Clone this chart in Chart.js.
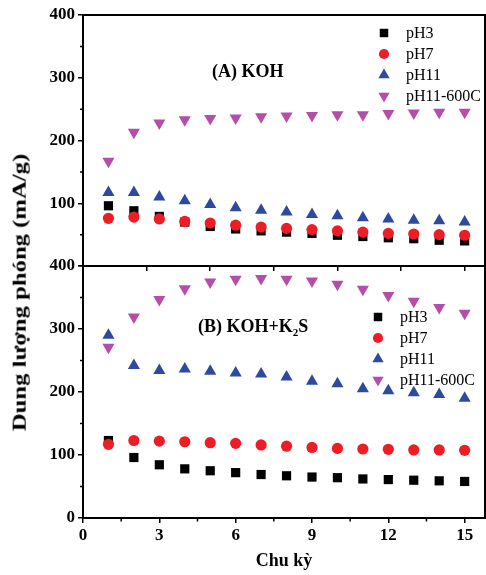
<!DOCTYPE html>
<html><head><meta charset="utf-8">
<script src="https://cdn.jsdelivr.net/npm/chart.js@4/dist/chart.umd.min.js"></script>
<style>
html,body{margin:0;padding:0;background:#fff;}
#wrap{position:relative;width:486px;height:575px;overflow:hidden;background:#fff;}
canvas{position:absolute;left:0;top:0;}
#ytitle{position:absolute;left:20px;top:292px;white-space:nowrap;font:bold 18px "Liberation Serif",serif;color:#000;transform-origin:center center;}
</style></head>
<body>
<div id="wrap">
<canvas id="cA" width="486" height="575"></canvas>
<canvas id="cB" width="486" height="575"></canvas>
<div id="ytitle">Dung lượng phóng (mA/g)</div>
</div>
<script>
// ---- data ----
const cycles = [1,2,3,4,5,6,7,8,9,10,11,12,13,14,15];
const seriesNames = ['pH3','pH7','pH11','pH11-600C'];
// Panel A: KOH
const kohPH3   = [96,88,79,70,63,59,56,54,52,49,47,45,43.5,41,40];
const kohPH7   = [76,78,75,71,68.5,65,62,60,58,56,54,52,51,50,49];
const kohPH11  = [117,117,110,104,98,93,89,86,82,80,77,75,73,72,70];
const kohPH600 = [167,213,228,233,235,236,238,239,240,241,241,243,244,245,245];
// Panel B: KOH+K2S
const ksPH3   = [123,96,84.5,78,75,72,69,67,65,64,62,61,60,59,58];
const ksPH7   = [117,123,122,121,119.5,118.5,116,114,112,110.5,109.5,109,108,108,107.5];
const ksPH11  = [290,242,234,236.5,233,230,228.5,224,217,213,205,202,199,196,190];
const ksPH600 = [271,319,347,364,374.5,379,380,379,376,371,363,353,344,334,325];
const yTicksMajor = [0,100,200,300,400];
const xTicksBottom = [0,3,6,9,12,15];

const colors = ['#000000','#ee1c25','#2d4a9e','#b54ea9'];
const styles = [
  {pointStyle:'rect', rotation:0, radius:6.5},
  {pointStyle:'circle', rotation:0, radius:5.6},
  {pointStyle:'triangle', rotation:0, radius:7},
  {pointStyle:'triangle', rotation:180, radius:7}
];
const drawOrder = [4,3,2,1];

const serif = '"Liberation Serif", "DejaVu Serif", serif';

function makeDatasets(arrs){
  return arrs.map((arr,i)=>({
    label: seriesNames[i],
    data: cycles.map((c,j)=>({x:c,y:arr[j]})),
    backgroundColor: colors[i],
    borderColor: colors[i],
    borderWidth: 0,
    pointStyle: styles[i].pointStyle,
    rotation: styles[i].rotation,
    pointRadius: styles[i].radius,
    pointHoverRadius: styles[i].radius,
    showLine: false,
    order: drawOrder[i]
  }));
}

const framePlugin = {
  id:'frame',
  afterDraw(chart, args, opts){
    const ctx = chart.ctx, a = chart.chartArea;
    ctx.save();
    ctx.strokeStyle = '#000';
    ctx.lineWidth = 2;
    ctx.strokeRect(a.left, a.top, a.right - a.left, a.bottom - a.top);
    // minor y ticks
    const ys = chart.scales.y;
    ctx.lineWidth = 1.5;
    ctx.beginPath();
    for (let v = 50; v < 400; v += 100) {
      const p = ys.getPixelForValue(v);
      ctx.moveTo(a.left - 3, p); ctx.lineTo(a.left, p);
    }
    if (opts.minorX) {
      const xs = chart.scales.x;
      for (let v = 1.5; v < 15.8; v += 3) {
        const p = xs.getPixelForValue(v);
        ctx.moveTo(p, a.bottom); ctx.lineTo(p, a.bottom + 3.5);
      }
    }
    ctx.stroke();
    // legend
    const lg = opts.legend;
    ctx.font = '16px ' + serif;
    ctx.textBaseline = 'middle';
    ctx.textAlign = 'left';
    chart.data.datasets.forEach((ds,i)=>{
      const y = lg.y + i * lg.dy;
      ctx.fillStyle = colors[i];
      Chart.helpers.drawPoint(ctx, {pointStyle: styles[i].pointStyle, rotation: styles[i].rotation, radius: styles[i].radius - 0.5, borderWidth: 0}, lg.mx, y);
      ctx.fillStyle = '#000';
      ctx.fillText(ds.label, lg.tx, y + 1);
    });
    // panel label
    const pl = opts.panel;
    ctx.font = 'bold 18px ' + serif;
    ctx.fillStyle = '#000';
    let x = pl.x;
    pl.parts.forEach(pt=>{
      if (pt.sub) {
        ctx.font = 'bold 11px ' + serif;
        ctx.fillText(pt.t, x, pl.y + 6);
        x += ctx.measureText(pt.t).width;
        ctx.font = 'bold 18px ' + serif;
      } else {
        ctx.fillText(pt.t, x, pl.y);
        x += ctx.measureText(pt.t).width;
      }
    });
    ctx.restore();
  }
};

function yScale(hideZero){
  return {
    min:0, max:400,
    afterFit: s => { s.width = 83; },
    afterBuildTicks: s => { s.ticks = yTicksMajor.map(v=>({value:v})); },
    ticks:{
      color:'#000',
      font:{family:serif, size:17, weight:'bold'},
      padding:3,
      callback: v => (hideZero && v === 0) ? '' : String(v)
    },
    grid:{display:true, drawOnChartArea:false, drawTicks:true, tickLength:5, color:'#000', lineWidth:1.5},
    border:{display:true, color:'#000', width:2}
  };
}

const commonOpts = {
  responsive:false, animation:false, devicePixelRatio:1,
  events:[]
};

// Top chart (A)
new Chart(document.getElementById('cA'), {
  type:'scatter',
  data:{datasets: makeDatasets([kohPH3,kohPH7,kohPH11,kohPH600])},
  options:Object.assign({}, commonOpts, {
    layout:{autoPadding:false, padding:{left:0, right:1, top:15, bottom:303}},
    plugins:{legend:{display:false}, tooltip:{enabled:false},
      frame:{legend:{mx:384, tx:406, y:33, dy:21}, panel:{x:212, y:72, parts:[{t:'(A) KOH'}]}}},
    scales:{
      x:{
        type:'linear', min:0, max:15.8,
        afterFit: s => { s.height = 6; },
        ticks:{display:false, stepSize:2.5, includeBounds:false},
        grid:{display:true, drawOnChartArea:false, drawTicks:true, tickLength:5, color:'#000', lineWidth:1.5},
        border:{display:true, color:'#000', width:2}
      },
      y: yScale(true)
    }
  }),
  plugins:[framePlugin]
});

// Bottom chart (B)
new Chart(document.getElementById('cB'), {
  type:'scatter',
  data:{datasets: makeDatasets([ksPH3,ksPH7,ksPH11,ksPH600])},
  options:Object.assign({}, commonOpts, {
    layout:{autoPadding:false, padding:{left:0, right:1, top:266, bottom:0}},
    plugins:{legend:{display:false}, tooltip:{enabled:false},
      frame:{minorX:true, legend:{mx:378, tx:400, y:317, dy:21}, panel:{x:198, y:327, parts:[{t:'(B) KOH+K'},{t:'2',sub:true},{t:'S'}]}}},
    scales:{
      x:{
        type:'linear', min:0, max:15.8,
        afterFit: s => { s.height = 57; },
        afterBuildTicks: s => { s.ticks = xTicksBottom.map(v=>({value:v})); },
        ticks:{color:'#000', font:{family:serif, size:17, weight:'bold'}, padding:2, maxRotation:0},
        title:{display:true, text:'Chu kỳ', color:'#000', font:{family:serif, size:18, weight:'bold'}, padding:{top:0,bottom:3}},
        grid:{display:true, drawOnChartArea:false, drawTicks:true, tickLength:5, color:'#000', lineWidth:1.5},
        border:{display:true, color:'#000', width:2}
      },
      y: yScale(false)
    }
  }),
  plugins:[framePlugin]
});

// y title: rotate and stretch along its length
const yt = document.getElementById('ytitle');
const w = yt.offsetWidth, h = yt.offsetHeight;
const sx = 277 / w;
yt.style.left = (20 - w/2) + 'px';
yt.style.top = (292 - h/2) + 'px';
yt.style.transform = 'rotate(-90deg) scaleX(' + sx.toFixed(3) + ')';
</script>
</body></html>
